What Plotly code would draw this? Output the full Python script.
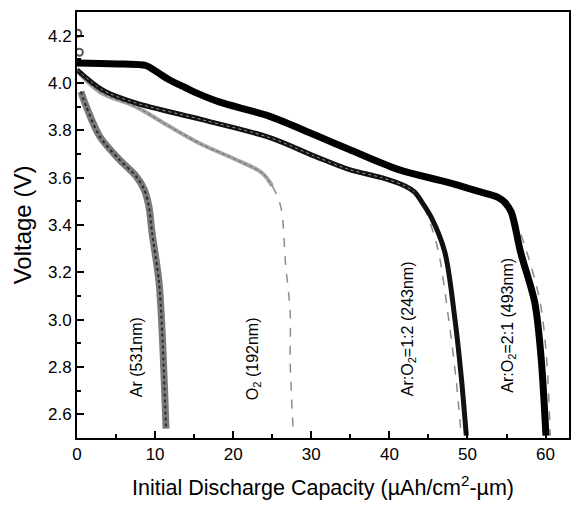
import plotly.graph_objects as go

# ---- data ----
# Ar:O2 = 2:1 (493 nm)
cap_21 = [0.0, 3.0, 6.0, 8.8, 10.3, 11.8, 13.9, 15.5, 18.2, 24.6, 30.5, 34.8, 41.1, 47.5, 51.3, 53.9, 54.8, 55.6, 56.8, 58.6, 59.4, 60.05]
v_21 = [4.085, 4.082, 4.080, 4.074, 4.045, 4.014, 3.98, 3.955, 3.92, 3.86, 3.78, 3.72, 3.635, 3.58, 3.543, 3.517, 3.495, 3.455, 3.285, 3.075, 2.85, 2.51]
# second (gray) trace of the 2:1 film, drop region
cap_21b = [54.8, 55.9, 57.6, 59.3, 60.1, 60.6]
v_21b = [3.495, 3.44, 3.285, 3.075, 2.85, 2.51]

# Ar:O2 = 1:2 (243 nm)
cap_12 = [0.0, 3.3, 7.5, 16.0, 24.6, 30.5, 34.8, 39.0, 42.0, 43.2, 44.1, 45.4, 47.1, 48.4, 49.2, 49.85]
v_12 = [4.056, 3.97, 3.916, 3.845, 3.77, 3.69, 3.635, 3.60, 3.565, 3.54, 3.50, 3.43, 3.285, 3.0, 2.76, 2.51]
cap_12b = [43.2, 44.2, 45.0, 46.3, 47.6, 48.5, 49.2]
v_12b = [3.54, 3.49, 3.43, 3.285, 3.0, 2.76, 2.51]

# O2 (192 nm)
cap_o2 = [0.0, 3.0, 7.5, 11.8, 16.0, 20.3, 23.7, 25.0, 25.8, 26.25, 26.7, 27.3, 27.3, 27.7]
v_o2 = [4.05, 3.96, 3.90, 3.817, 3.74, 3.677, 3.62, 3.565, 3.51, 3.45, 3.24, 3.03, 2.82, 2.52]

# Ar (531 nm)
cap_ar = [0.5, 1.2, 2.9, 5.4, 7.55, 8.6, 9.2, 9.6, 10.5, 10.9, 11.4]
v_ar = [3.964, 3.90, 3.775, 3.677, 3.607, 3.55, 3.48, 3.37, 3.16, 2.95, 2.54]

# initial (open-circuit) points
cap_ocv = [0.1, 0.3]
v_ocv = [4.21, 4.13]

labels = ["Ar (531nm)", "O<sub>2</sub> (192nm)", "Ar:O<sub>2</sub>=1:2 (243nm)", "Ar:O<sub>2</sub>=2:1 (493nm)"]
label_x = [7.6, 22.6, 42.4, 55.2]
label_y = [2.843, 2.835, 2.96, 2.975]

x_ticks = [0, 10, 20, 30, 40, 50, 60]
y_ticks = [2.6, 2.8, 3.0, 3.2, 3.4, 3.6, 3.8, 4.0, 4.2]

FONT = "Liberation Sans, Arial, sans-serif"
SM = 0.9

fig = go.Figure()

# gray companion traces (second cells)
fig.add_trace(go.Scatter(x=cap_12b, y=v_12b, mode="lines",
                         line=dict(color="#8a8a8a", width=1.5, dash="dash", shape="spline", smoothing=SM)))
fig.add_trace(go.Scatter(x=cap_21b, y=v_21b, mode="lines",
                         line=dict(color="#8a8a8a", width=1.5, dash="dash", shape="spline", smoothing=SM)))

# O2
fig.add_trace(go.Scatter(x=cap_o2[:8], y=v_o2[:8], mode="lines",
                         line=dict(color="#a4a4a4", width=4, shape="spline", smoothing=SM)))
fig.add_trace(go.Scatter(x=cap_o2[:8], y=v_o2[:8], mode="lines",
                         line=dict(color="#666666", width=1, dash="dot", shape="spline", smoothing=SM)))
fig.add_trace(go.Scatter(x=cap_o2[7:], y=v_o2[7:], mode="lines",
                         line=dict(color="#8c8c8c", width=1.5, dash="dash", shape="spline", smoothing=SM)))

# Ar
fig.add_trace(go.Scatter(x=cap_ar, y=v_ar, mode="lines",
                         line=dict(color="#7a7a7a", width=7, shape="spline", smoothing=SM)))
fig.add_trace(go.Scatter(x=cap_ar, y=v_ar, mode="lines",
                         line=dict(color="#2a2a2a", width=2, dash="dot", shape="spline", smoothing=SM)))

# 1:2
fig.add_trace(go.Scatter(x=cap_12, y=v_12, mode="lines",
                         line=dict(color="#111111", width=5, shape="spline", smoothing=SM)))
fig.add_trace(go.Scatter(x=cap_12[:10], y=v_12[:10], mode="lines",
                         line=dict(color="#999999", width=1, dash="dot", shape="spline", smoothing=SM)))

# 2:1
fig.add_trace(go.Scatter(x=cap_21, y=v_21, mode="lines",
                         line=dict(color="#000000", width=7, shape="spline", smoothing=SM)))

# OCV points
fig.add_trace(go.Scatter(x=cap_ocv, y=v_ocv, mode="markers",
                         marker=dict(symbol="circle-open", size=7, color="#555555", line=dict(width=2))))

for t, xx, yy in zip(labels, label_x, label_y):
    fig.add_annotation(x=xx, y=yy, text=t, textangle=-90, showarrow=False,
                       font=dict(family=FONT, size=16, color="black"))

axis_common = dict(showline=True, linecolor="black", linewidth=2, mirror=True,
                   ticks="inside", ticklen=7, tickwidth=1.5, tickcolor="black",
                   showgrid=False, zeroline=False,
                   tickfont=dict(family=FONT, size=17, color="black"))

fig.update_xaxes(range=[0, 63], tickvals=x_ticks,
                 minor=dict(ticks="inside", ticklen=4, tickwidth=1.5, tickcolor="black", dtick=5, tick0=0),
                 title=dict(text="Initial Discharge Capacity (\u00b5Ah/cm<sup>2</sup>-\u00b5m)",
                            font=dict(family=FONT, size=21.5, color="black"), standoff=17),
                 **axis_common)
fig.update_yaxes(range=[2.5, 4.3], tickvals=y_ticks, tickformat=".1f",
                 minor=dict(ticks="inside", ticklen=4, tickwidth=1.5, tickcolor="black", dtick=0.1, tick0=2.5),
                 title=dict(text="Voltage (V)", font=dict(family=FONT, size=24, color="black"), standoff=10),
                 **axis_common)

fig.update_layout(width=571, height=506, showlegend=False,
                  margin=dict(l=77, r=0, t=12, b=68),
                  plot_bgcolor="white", paper_bgcolor="white")

fig.write_html("out.html")
